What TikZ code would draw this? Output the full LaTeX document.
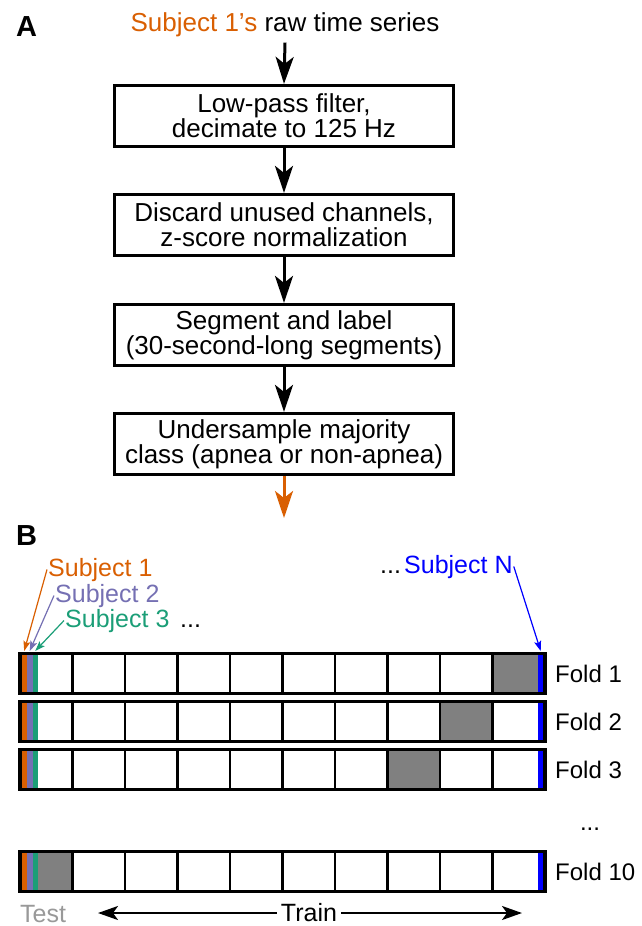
\documentclass[tikz,border=0pt]{standalone}
\usepackage{fontspec}
\setmainfont{Liberation Sans}
\usetikzlibrary{arrows.meta}
\definecolor{subjorange}{HTML}{D95F02}
\definecolor{subjpurple}{HTML}{7570B3}
\definecolor{subjgreen}{HTML}{1B9E77}
\definecolor{subjblue}{HTML}{0000FF}
\definecolor{testgray}{HTML}{999999}
\definecolor{foldgray}{HTML}{808080}
\begin{document}
\begin{tikzpicture}[x=1pt,y=-1pt,
  stepbox/.style={draw, line width=2.7pt, minimum width=339pt, minimum height=61.5pt,
    inner sep=0pt, align=center, font=\fontsize{26}{25}\selectfont},
  flow/.style={line width=3pt, -{Stealth[length=27pt,width=18pt,inset=7pt]}},
  spanarrow/.style={line width=2.2pt, -{Stealth[length=20pt,width=14pt,inset=5pt]}},
  pointer/.style={line width=1.2pt, -{Stealth[length=10pt,width=7pt,inset=2pt]}},
  lbl/.style={inner sep=0pt, anchor=base west, font=\fontsize{25}{25}\selectfont},
  panel/.style={inner sep=0pt, anchor=base west, font=\fontsize{29}{29}\selectfont\bfseries},
  foldlbl/.style={inner sep=0pt, anchor=base west, font=\fontsize{24}{24}\selectfont},
]
\useasboundingbox (0,0) rectangle (642,926);

% ---------- panel A: preprocessing pipeline ----------
\node[panel] (pa) at (16,36) {A};
\node[inner sep=0pt, anchor=base, font=\fontsize{26}{26}\selectfont] (title) at (285,31)
  {\textcolor{subjorange}{Subject 1's} raw time series};

\node[stepbox] (b1) at (284,116) {Low-pass filter,\\decimate to 125 Hz};
\node[stepbox] (b2) at (284,225) {Discard unused channels,\\z-score normalization};
\node[stepbox] (b3) at (284,335) {Segment and label\\(30-second-long segments)};
\node[stepbox] (b4) at (284,444) {Undersample majority\\class (apnea or non-apnea)};
\coordinate (out) at (284,518);

\draw[flow] ([yshift=-6pt]title.south) -- (b1.north);
\draw[flow] (b1) -- (b2);
\draw[flow] (b2) -- (b3);
\draw[flow] (b3) -- (b4);
\draw[flow, draw=subjorange, fill=subjorange] (b4.south) -- (out);

% ---------- panel B: cross-validation folds ----------
\node[panel] (pb) at (16,545) {B};

\node[lbl, text=subjorange] (s1) at (48,576) {Subject 1};
\node[lbl, text=subjpurple] (s2) at (55,602) {Subject 2};
\node[lbl, text=subjgreen]  (s3) at (65,627) {Subject 3};
\node[lbl] (s3dots) at (180,627) {...};
\node[lbl] (sNdots) at (380,573) {...};
\node[lbl, text=subjblue] (sN) at (404,573) {Subject N};

\coordinate (t1) at (24.2,651);
\coordinate (t2) at (29.7,651);
\coordinate (t3) at (35.2,651);
\coordinate (tN) at (540.7,651);

% folds: top of bar / index of the test cell / fold number
\foreach \ytop/\g/\k in {653.7/10/1, 701.7/9/2, 749.7/8/3, 851.7/1/10} {
  \fill[white] (20,\ytop) rectangle (545,\ytop+39.6);
  \fill[foldgray] ({20+(\g-1)*52.5},\ytop) rectangle ({20+\g*52.5},\ytop+39.6);
  \fill[subjorange] (21.7,\ytop) rectangle (26.7,\ytop+39.6);
  \fill[subjpurple] (26.7,\ytop) rectangle (32.7,\ytop+39.6);
  \fill[subjgreen]  (32.7,\ytop) rectangle (37.7,\ytop+39.6);
  \fill[subjblue]   (538,\ytop) rectangle (543.3,\ytop+39.6);
  \foreach \i in {1,...,9}
    \draw[line width=2.8pt] ({20+\i*52.5},\ytop) -- ({20+\i*52.5},\ytop+39.6);
  \draw[line width=3.4pt] (20,\ytop) rectangle (545,\ytop+39.6);
  \node[foldlbl] (f\k) at (555,\ytop+28.4) {Fold \k};
}
\node[inner sep=0pt, anchor=base, font=\fontsize{24}{24}\selectfont] (fdots) at (590,830) {...};

\draw[pointer, draw=subjorange, fill=subjorange] ([xshift=-1pt]s1.west) -- (t1);
\draw[pointer, draw=subjpurple, fill=subjpurple] ([xshift=-1pt]s2.west) -- (t2);
\draw[pointer, draw=subjgreen, fill=subjgreen]   ([xshift=-1pt]s3.west) -- (t3);
\draw[pointer, draw=subjblue, fill=subjblue]     ([xshift=1pt]sN.east) -- (tN);

% train / test legend
\node[lbl, text=testgray] (test) at (20,922) {Test};
\node[inner sep=4pt, font=\fontsize{25}{25}\selectfont] (train) at (309,913) {Train};
\coordinate (trainL) at (98,913);
\coordinate (trainR) at (522,913);
\draw[spanarrow] (train.west) -- (trainL);
\draw[spanarrow] (train.east) -- (trainR);
\end{tikzpicture}
\end{document}
